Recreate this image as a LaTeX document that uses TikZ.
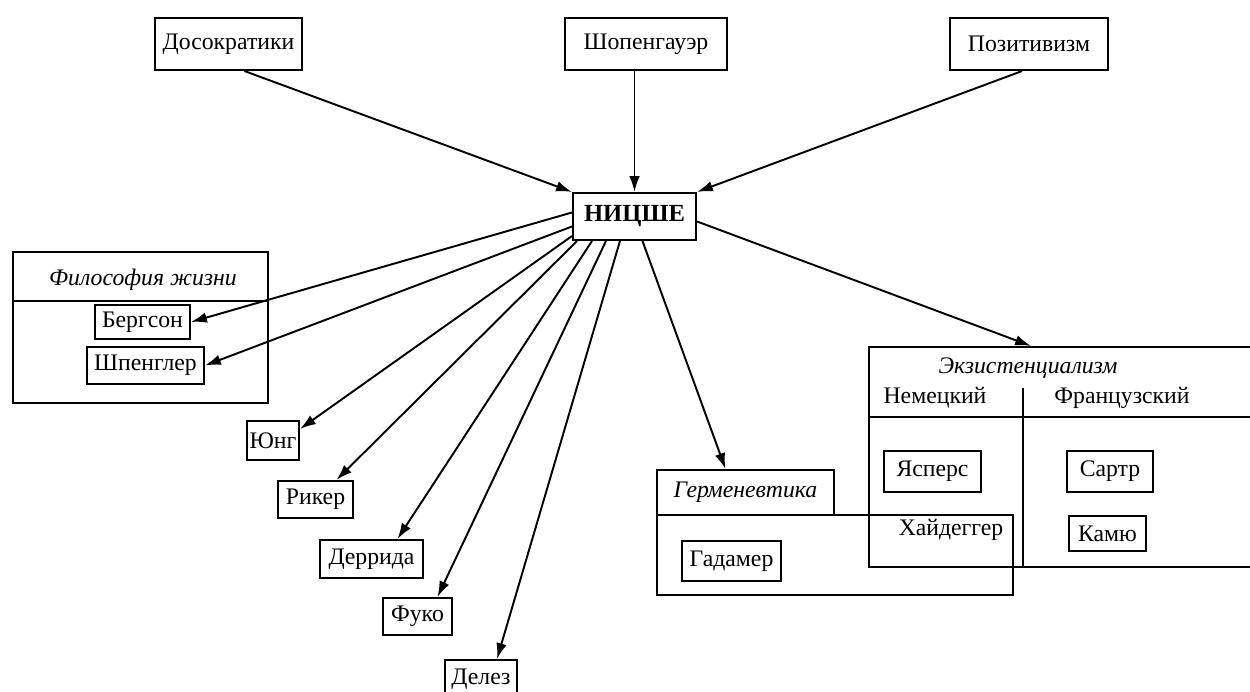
\documentclass[tikz,border=0pt]{standalone}
\usepackage{fontspec}
\setmainfont{Liberation Serif}
\usetikzlibrary{arrows.meta,calc}
\begin{document}
\begin{tikzpicture}[x=0.02cm,y=-0.02cm,
  every node/.style={font=\fontsize{13.5}{15}\selectfont},
  sz/.style n args={2}{minimum width=#1*0.02cm,minimum height=#2*0.02cm},
  box/.style={draw,line width=1.2pt,inner sep=0pt},
  lbl/.style={inner sep=0pt},
  ital/.style={font=\fontsize{13.5}{15}\selectfont\itshape},
  divline/.style={line width=1.2pt},
  arr/.style={-{Latex[length=9pt,width=6pt]},line width=1.1pt},
]
\useasboundingbox (0,0) rectangle (1250,692);

% top sources
\node[box,sz={147}{52}] (dos) at (228.5,44) {Досократики};
\node[box,sz={162}{52}] (sch) at (646,44) {Шопенгауэр};
\node[box,sz={158}{52}] (pos) at (1029,44) {Позитивизм};
\node[box,sz={123}{47},font=\fontsize{14}{15}\selectfont\bfseries] (n) at (634.5,216.5) {НИЦШЕ};

% Philosophy of life
\node[box,sz={255}{151}] (phil) at (140.5,327.5) {};
\draw[divline] ($(phil.north west)+(0,50)$) -- ($(phil.north east)+(0,50)$);
\node[lbl,ital] (philt) at (143,280) {Философия жизни};
\node[box,sz={95}{34}] (berg) at (142.5,322) {Бергсон};
\node[box,sz={117}{37}] (speng) at (145.5,365.5) {Шпенглер};

% singles
\node[box,sz={52}{39}] (jung) at (273,440.5) {Юнг};
\node[box,sz={75}{37}] (rik) at (315.5,499.5) {Рикер};
\node[box,sz={103}{38}] (der) at (371.5,559) {Деррида};
\node[box,sz={69}{37}] (fuk) at (417.5,616.5) {Фуко};
\node[box,sz={72}{38}] (del) at (481,679) {Делез};

% Hermeneutics
\node[box,sz={177}{45},ital] (hermh) at (745.5,492.5) {Герменевтика};
\node[box,sz={356}{80}] (herml) at (835,555) {};
\node[box,sz={99}{40}] (gad) at (731.5,561) {Гадамер};
\node[lbl] (heid) at (951,530) {Хайдеггер};

% Existentialism
\node[box,sz={391}{220}] (exist) at (1064.5,457) {};
\draw[divline] ($(exist.north west)+(0,71)$) -- ($(exist.north east)+(0,71)$);
\draw[divline] ($(exist.south west)+(155,0)$) -- ($(exist.south west)+(155,-180)$);
\node[lbl,ital] (ext) at (1028,368) {Экзистенциализм};
\node[lbl] (ger) at (935,398) {Немецкий};
\node[lbl] (fr) at (1122,398) {Французский};
\node[box,sz={97}{41}] (jas) at (932.5,471.5) {Ясперс};
\node[box,sz={86}{41}] (sar) at (1110,471.5) {Сартр};
\node[box,sz={77}{35}] (kam) at (1107.5,533.5) {Камю};

% incoming arrows
\draw[arr] ($(dos.south)+(16,0)$) -- (n.north west);
\draw[arr] (n.north |- sch.south) -- (n.north);
\draw[arr] ($(pos.south)+(-7,0)$) -- (n.north east);

% outgoing arrows
\draw[arr] ($(n.west)+(0,-4)$) -- (berg.east);
\draw[arr] ($(n.west)+(0,10)$) -- (speng.east);
\draw[arr] ($(n.south west)+(0,-5)$) -- ($(jung.north east)+(0,9)$);
\draw[arr] ($(n.south west)+(5,0)$) -- ($(rik.north)+(21,0)$);
\draw[arr] ($(n.south west)+(20,0)$) -- ($(der.north)+(26,0)$);
\draw[arr] ($(n.south west)+(34,0)$) -- ($(fuk.north)+(20,0)$);
\draw[arr] ($(n.south west)+(48,0)$) -- ($(del.north)+(16,0)$);
\draw[arr] ($(n.south)+(8,0)$) -- ($(hermh.north)+(-20,0)$);
\draw[arr] ($(n.east)+(0,5)$) -- ($(exist.north west)+(163,0)$);
\end{tikzpicture}
\end{document}
